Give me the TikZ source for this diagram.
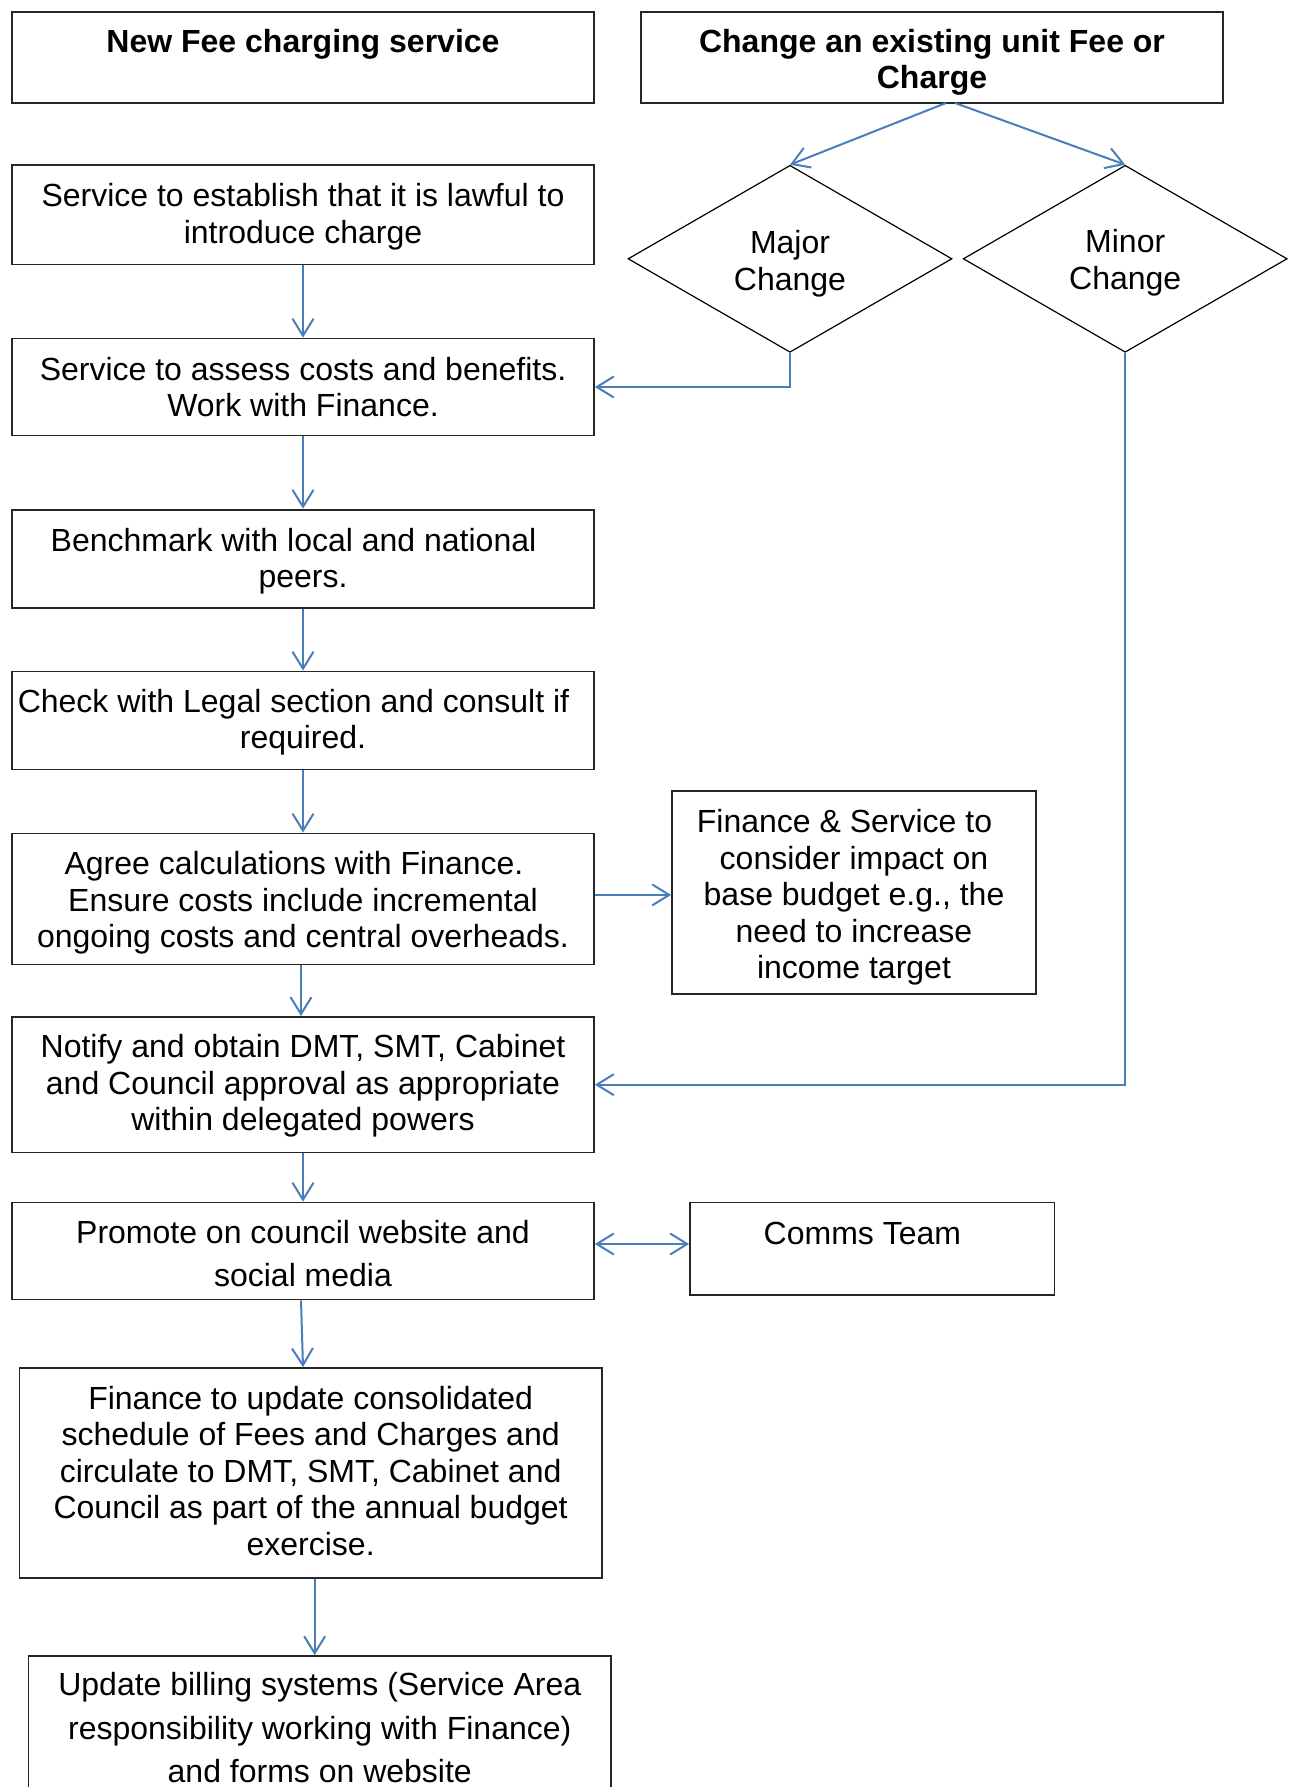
\documentclass[tikz,border=0pt]{standalone}
\usepackage{fontspec}
\setmainfont{Liberation Sans}
\usetikzlibrary{shapes.geometric,arrows.meta}
\definecolor{connblue}{RGB}{74,126,187}
\begin{document}
\begin{tikzpicture}[x=0.5pt,y=-0.5pt,
  box/.style={draw=black!85, line width=0.9pt, rectangle, inner sep=0pt},
  dia/.style={draw=black, line width=0.6pt, diamond, inner sep=0pt, minimum width=162pt,
    minimum height=93.5pt},
  txt/.style={inner sep=0pt, align=center, font=\fontsize{16pt}{18.25pt}\selectfont},
  wide/.style={font=\fontsize{16pt}{21.6pt}\selectfont},
  boldtxt/.style={inner sep=0pt, align=center, font=\fontsize{16pt}{18pt}\selectfont\bfseries},
  conn/.style={draw=connblue, line width=1pt, -{Straight Barb[length=8.5pt,width=10.5pt]}},
  connboth/.style={draw=connblue, line width=1pt, {Straight Barb[length=8.5pt,width=10.5pt]}-{Straight Barb[length=8.5pt,width=10.5pt]}},
]
\useasboundingbox (0,0) rectangle (1294,1787);
\fill[white] (0,0) rectangle (1294,1787);

% headers
\node[box, minimum width=291pt, minimum height=45.5pt] (A) at (303,57.5) {};
\node[boldtxt, anchor=north] (At) at (303,29) {New Fee charging service};
\node[box, minimum width=291pt, minimum height=45.5pt] (B) at (932,57.5) {};
\node[boldtxt, anchor=north] (Bt) at (932,29) {Change an existing unit Fee or\\Charge};

% diamonds
\node[dia] (majr) at (790,258.8) {};
\node[txt] (majrt) at ([yshift=-2.5pt]majr.center) {Major\\Change};
\node[dia] (minr) at (1125.2,258.8) {};
\node[txt] (minrt) at ([yshift=-2pt]minr.center) {Minor\\Change};

% left column boxes
\node[box, minimum width=291pt, minimum height=49.75pt] (n1) at (303,214.75) {};
\node[txt] (n1t) at ([yshift=-1.1pt]n1.center)
  {Service to establish that it is lawful to\\introduce charge};
\node[box, minimum width=291pt, minimum height=48.5pt] (n2) at (303,387) {};
\node[txt] (n2t) at (n2.center)
  {Service to assess costs and benefits.\\Work with Finance.};
\node[box, minimum width=291pt, minimum height=49pt] (n3) at (303,558.6) {};
\node[txt] (n3t) at ([yshift=-1.4pt]n3.center)
  {Benchmark with local and national\hspace*{9.5pt}\\peers.};
\node[box, minimum width=291pt, minimum height=49pt] (n4) at (303,720.5) {};
\node[txt] (n4t) at ([yshift=-0.85pt]n4.center)
  {Check with Legal section and consult if\hspace*{9.5pt}\\required.};
\node[box, minimum width=291pt, minimum height=65.5pt] (n5) at (303,898.9) {};
\node[txt] (n5t) at ([yshift=-2pt]n5.center)
  {Agree calculations with Finance.\hspace*{9pt}\\Ensure costs include incremental\\ongoing costs and central overheads.};
\node[box, minimum width=182pt, minimum height=101.5pt] (F) at (854,892.5) {};
\node[txt] (Ft) at ([yshift=-2.5pt]F.center)
  {Finance \& Service to\hspace*{9.5pt}\\consider impact on\\base budget e.g., the\\need to increase\\income target};
\node[box, minimum width=291pt, minimum height=67.8pt] (n6) at (303,1084.7) {};
\node[txt] (n6t) at ([yshift=-0.6pt]n6.center)
  {Notify and obtain DMT, SMT, Cabinet\\and Council approval as appropriate\\within delegated powers};
\node[box, minimum width=291pt, minimum height=48.5pt] (n7) at (303,1251) {};
\node[txt, wide] (n7t) at ([yshift=-1.4pt]n7.center)
  {Promote on council website and\\social media};
\node[box, minimum width=182.25pt, minimum height=46.25pt] (C) at (872.25,1248.75) {};
\node[txt, anchor=base] (Ct) at (862.4,1244) {Comms Team};
\node[box, minimum width=291.25pt, minimum height=104.9pt] (n8) at (310.65,1472.9) {};
\node[txt] (n8t) at ([yshift=1.1pt]n8.center)
  {Finance to update consolidated\\schedule of Fees and Charges and\\circulate to DMT, SMT, Cabinet and\\Council as part of the annual budget\\exercise.};
\node[box, minimum width=291.25pt, minimum height=70pt] (n9) at (319.75,1726) {};
\node[txt, wide] (n9t) at ([yshift=-0.85pt]n9.center)
  {Update billing systems (Service Area\\responsibility working with Finance)\\and forms on website};

% connectors
\coordinate (bl) at (946,103);
\coordinate (br) at (955,103);
\draw[conn] (bl) -- (majr.north);
\draw[conn] (br) -- (minr.north);
\draw[conn] (majr.south) |- (n2.east);
\draw[conn] (minr.south) |- (n6.east);
\draw[conn] (n1.south) -- (n2.north);
\draw[conn] (n2.south) -- (n3.north);
\draw[conn] (n3.south) -- (n4.north);
\draw[conn] (n4.south) -- (n5.north);
\draw[conn] ([xshift=-1pt]n5.south) -- ([xshift=-1pt]n5.south |- n6.north);
\draw[conn] ([yshift=2pt]n5.east) -- ([yshift=2pt]n5.east -| F.west);
\draw[conn] (n6.south) -- (n7.north);
\draw[connboth] ([yshift=3.5pt]n7.east) -- ([yshift=3.5pt]n7.east -| C.west);
\draw[conn] ([xshift=-1pt]n7.south) -- (n7.south |- n8.north);
\draw[conn] ([xshift=2pt]n8.south) -- ([xshift=2pt]n8.south |- n9.north);
\end{tikzpicture}
\end{document}
